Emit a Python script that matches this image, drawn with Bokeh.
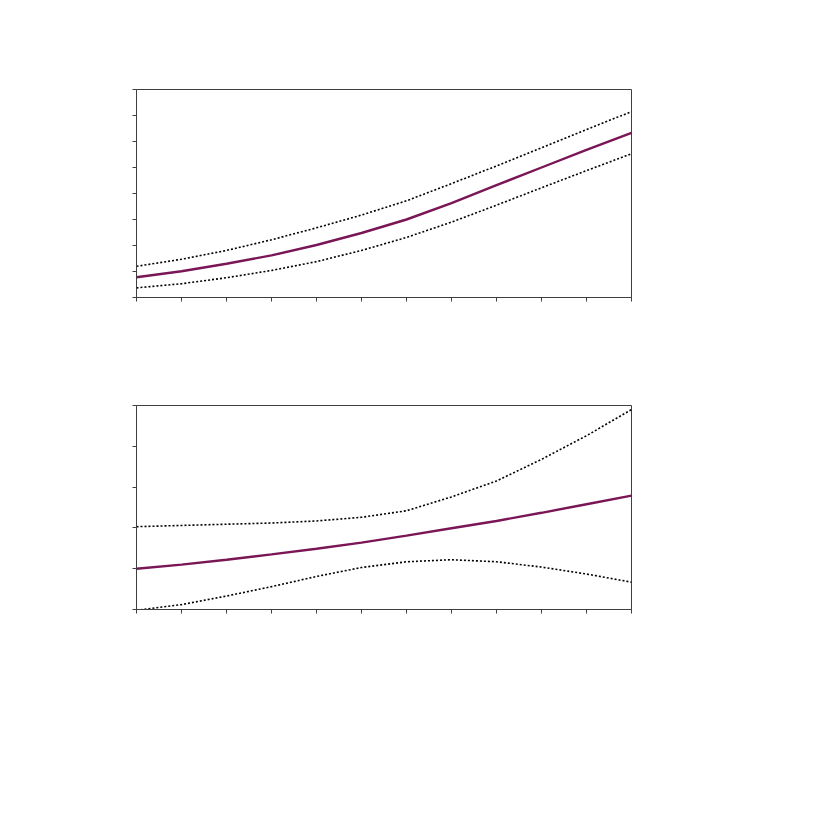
from bokeh.plotting import figure
from bokeh.layouts import column
from bokeh.models import FixedTicker, Range1d
from bokeh.embed import file_html
from bokeh.resources import INLINE

x = list(range(12))

top_mid = [0.78, 1.01, 1.30, 1.62, 2.02, 2.48, 3.00, 3.63, 4.32, 5.00, 5.68, 6.33]
top_upper = [1.20, 1.47, 1.81, 2.22, 2.68, 3.17, 3.72, 4.38, 5.06, 5.76, 6.46, 7.15]
top_lower = [0.37, 0.53, 0.76, 1.04, 1.38, 1.81, 2.31, 2.90, 3.55, 4.22, 4.88, 5.53]

bot_mid = [1.00, 1.10, 1.22, 1.35, 1.49, 1.64, 1.81, 1.99, 2.17, 2.37, 2.58, 2.79]
bot_upper = [2.03, 2.06, 2.09, 2.12, 2.17, 2.26, 2.42, 2.76, 3.15, 3.68, 4.26, 4.90]
bot_lower = [-0.02, 0.12, 0.33, 0.56, 0.81, 1.03, 1.17, 1.22, 1.17, 1.04, 0.87, 0.67]

x_ticks = list(range(12))
top_y_ticks = list(range(9))
bot_y_ticks = list(range(6))

PURPLE = "#7a1556"
AX = "#3f3f3f"


def make(mid, upper, lower, ymax, yticks, fh, top_border, bottom_border):
    p = figure(frame_width=495, frame_height=fh, output_backend="svg",
               toolbar_location=None, x_range=Range1d(0, 11),
               y_range=Range1d(0, ymax), min_border_left=136,
               min_border_right=180, min_border_top=top_border,
               min_border_bottom=bottom_border)
    p.grid.visible = False
    p.outline_line_color = AX
    p.outline_line_width = 1
    for ax, ticks in ((p.xaxis[0], x_ticks), (p.yaxis[0], yticks)):
        ax.ticker = FixedTicker(ticks=ticks)
        ax.axis_line_color = AX
        ax.major_tick_line_color = AX
        ax.major_tick_out = 4
        ax.major_tick_in = 0
        ax.minor_tick_line_color = None
        ax.major_label_overrides = {t: "" for t in ticks}
    p.line(x, upper, line_color="black", line_width=1.6, line_dash="2 2")
    p.line(x, lower, line_color="black", line_width=1.6, line_dash="2 2")
    p.line(x, mid, line_color=PURPLE, line_width=2.4)
    return p


p1 = make(top_mid, top_upper, top_lower, 8, top_y_ticks, 208, 89, 50)
p2 = make(bot_mid, bot_upper, bot_lower, 5, bot_y_ticks, 204, 58, 50)

p = column(p1, p2, spacing=0)
open("out.html", "w").write(file_html(p, INLINE))
